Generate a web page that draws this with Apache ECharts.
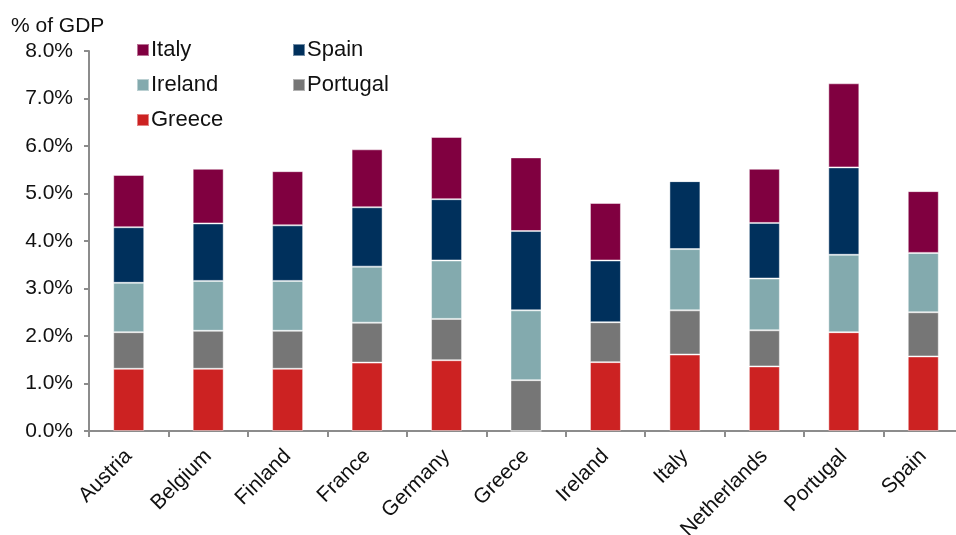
<!DOCTYPE html>
<html>
<head>
<meta charset="utf-8">
<script src="https://cdn.jsdelivr.net/npm/echarts@6/dist/echarts.min.js"></script>
<style>
  html, body { margin: 0; padding: 0; background: #fff; }
  #chart { width: 956px; height: 535px; }
</style>
</head>
<body>
<div id="chart"></div>
<script>
// Countries on the category axis
const countries = ['Austria', 'Belgium', 'Finland', 'France', 'Germany', 'Greece',
                   'Ireland', 'Italy', 'Netherlands', 'Portugal', 'Spain'];

// Exposure to each peripheral country, % of GDP (stacked bottom to top)
const greece   = [1.31, 1.31, 1.31, 1.44, 1.49, 0.00, 1.45, 1.61, 1.36, 2.08, 1.57];
const portugal = [0.77, 0.80, 0.80, 0.84, 0.87, 1.07, 0.84, 0.93, 0.76, 0.00, 0.93];
const ireland  = [1.04, 1.05, 1.05, 1.18, 1.23, 1.47, 0.00, 1.29, 1.09, 1.63, 1.25];
const spain    = [1.17, 1.21, 1.17, 1.25, 1.29, 1.67, 1.30, 1.43, 1.17, 1.84, 0.00];
const italy    = [1.10, 1.15, 1.14, 1.22, 1.31, 1.55, 1.21, 0.00, 1.14, 1.77, 1.30];

// Value-axis ticks
const yMin = 0, yMax = 8, yStep = 1;

const FONT = 'Liberation Sans, Arial, sans-serif';
const AXIS_GREY = '#8c8c8c';

const seriesDefs = [
  { name: 'Greece',   data: greece,   color: '#cc2222' },
  { name: 'Portugal', data: portugal, color: '#767676' },
  { name: 'Ireland',  data: ireland,  color: '#83aaae' },
  { name: 'Spain',    data: spain,    color: '#00305c' },
  { name: 'Italy',    data: italy,    color: '#800040' }
];

const legendText = { fontFamily: FONT, fontSize: 22, color: '#111', lineHeight: 20, padding: [0, 0, 0, -3] };

const chart = echarts.init(document.getElementById('chart'), null, { renderer: 'canvas' });

chart.setOption({
  animation: false,
  backgroundColor: '#ffffff',
  title: {
    text: '% of GDP',
    left: 11,
    top: 16,
    padding: 0,
    textStyle: { fontFamily: FONT, fontSize: 21, fontWeight: 'normal', color: '#111' }
  },
  legend: [
    {
      data: ['Italy', 'Ireland', 'Greece'],
      orient: 'vertical',
      left: 136, top: 39,
      padding: 0,
      itemWidth: 12, itemHeight: 12, itemGap: 13,
      icon: 'rect',
      textStyle: legendText,
      selectedMode: false
    },
    {
      data: ['Spain', 'Portugal'],
      orient: 'vertical',
      left: 292, top: 39,
      padding: 0,
      itemWidth: 12, itemHeight: 12, itemGap: 13,
      icon: 'rect',
      textStyle: legendText,
      selectedMode: false
    }
  ],
  // plot area runs a little past the right edge of the canvas
  grid: { left: 89, width: 874, top: 51, height: 380, containLabel: false, outerBoundsMode: 'none' },
  xAxis: {
    type: 'category',
    data: countries,
    axisLine: { lineStyle: { color: AXIS_GREY, width: 2 } },
    axisTick: { show: true, alignWithLabel: false, length: 6, lineStyle: { color: AXIS_GREY, width: 2 } },
    axisLabel: {
      interval: 0,
      rotate: 45,
      margin: 22,
      fontFamily: FONT,
      fontSize: 21,
      color: '#111'
    }
  },
  yAxis: {
    type: 'value',
    min: yMin, max: yMax, interval: yStep,
    splitLine: { show: false },
    axisLine: { show: true, lineStyle: { color: AXIS_GREY, width: 2 } },
    axisTick: { show: true, length: 5, lineStyle: { color: AXIS_GREY, width: 2 } },
    axisLabel: {
      margin: 16,
      fontFamily: FONT,
      fontSize: 21,
      color: '#111',
      formatter: v => v.toFixed(1) + '%'
    }
  },
  series: seriesDefs.map(s => ({
    name: s.name,
    type: 'bar',
    stack: 'total',
    data: s.data,
    barWidth: '39%',
    itemStyle: { color: s.color, borderColor: 'rgba(255,255,255,0.45)', borderWidth: 1 }
  }))
});
</script>
</body>
</html>
